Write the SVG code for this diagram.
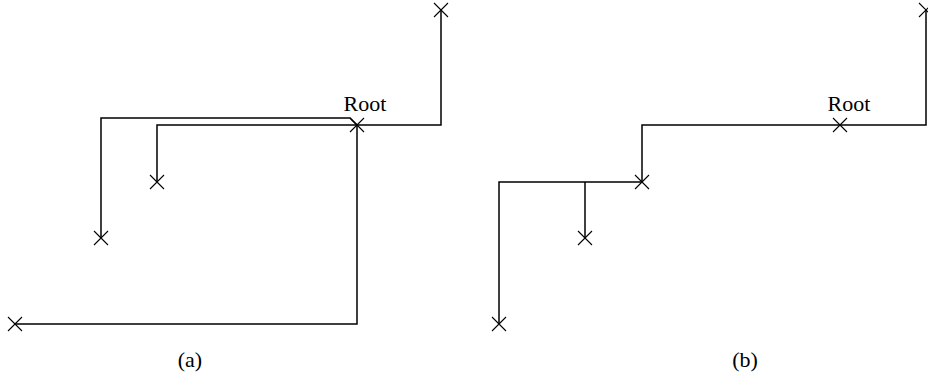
<svg xmlns="http://www.w3.org/2000/svg" width="928" height="387" viewBox="0 0 928 387">
<style>
.edge{fill:none;stroke:#000;stroke-width:1.5;stroke-linejoin:miter}
.mark{fill:none;stroke:#000;stroke-width:1.1}
text{font-family:"Liberation Serif","Times New Roman",serif;font-size:22px;fill:#000;text-anchor:middle}
</style>
<defs>
<path id="x" class="mark" d="M-7,-7 L7,7 M-7,7 L7,-7"/>
</defs>
<g id="connectors">
<path class="edge" d="M101,238 V118 H350 L357,125"/>
<path class="edge" d="M157,182 V125 H441 V10"/>
<path class="edge" d="M357,125 V324 H15"/>
<path class="edge" d="M926,10 V125 H642 V182 H499 V324"/>
<path class="edge" d="M585,182 V238"/>
</g>
<g id="a-root"><use href="#x" x="357" y="125"/><text x="365" y="111">Root</text></g>
<g id="a-n1"><use href="#x" x="441" y="10"/></g>
<g id="a-n2"><use href="#x" x="157" y="182"/></g>
<g id="a-n3"><use href="#x" x="101" y="238"/></g>
<g id="a-n4"><use href="#x" x="15" y="324"/></g>
<g id="b-root"><use href="#x" x="840" y="125"/><text x="849" y="111">Root</text></g>
<g id="b-n1"><use href="#x" x="926" y="10"/></g>
<g id="b-n2"><use href="#x" x="642" y="182"/></g>
<g id="b-n3"><use href="#x" x="585" y="238"/></g>
<g id="b-n4"><use href="#x" x="499" y="324"/></g>
<g id="captions">
<text x="190" y="367">(a)</text>
<text x="745" y="367">(b)</text>
</g>
</svg>
